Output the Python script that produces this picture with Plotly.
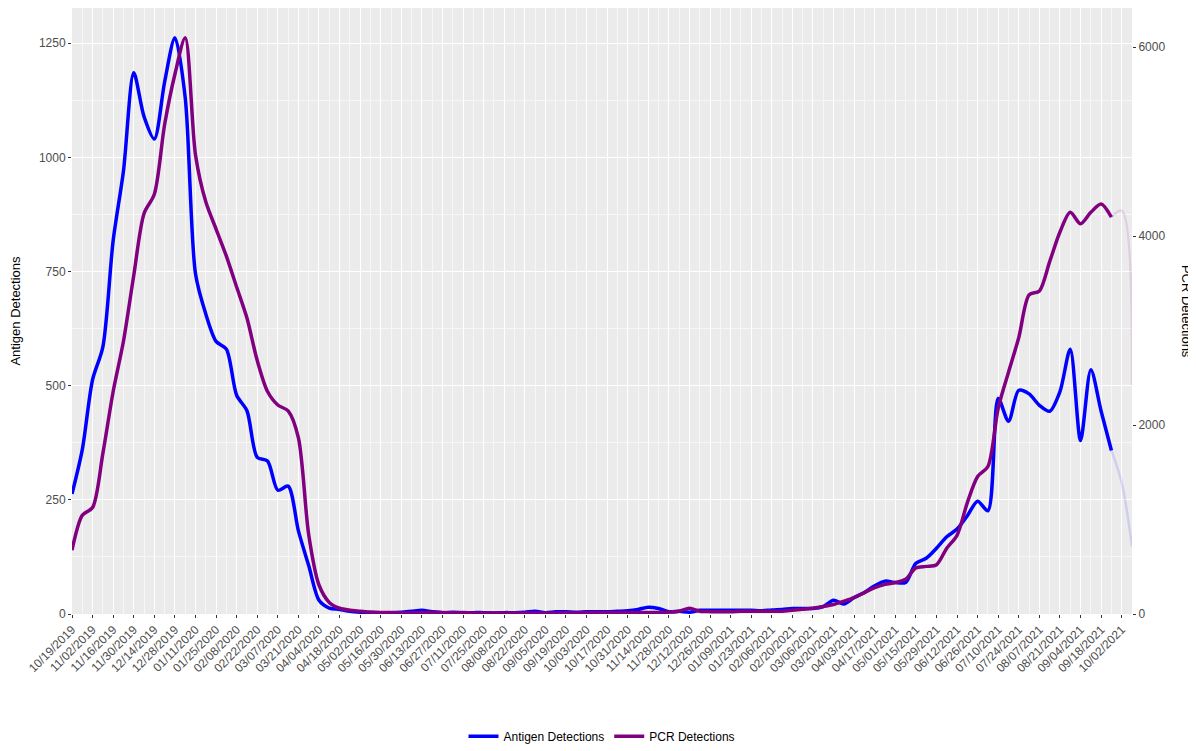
import pandas as pd
import plotly.graph_objects as go

# weekly dates, 10/19/2019 .. 10/09/2021
weeks = pd.date_range("2019-10-19", periods=104, freq="7D")

antigen = [263, 360, 513, 585, 818, 970, 1185, 1089, 1040, 1165,
           1262, 1131, 745, 657, 597, 580, 479, 445, 343, 335,
           271, 280, 182, 106, 30, 13, 10, 6, 4, 3,
           3, 3, 4, 6, 8, 5, 3, 4, 3, 3,
           3, 2, 3, 3, 4, 6, 3, 5, 5, 4,
           5, 5, 5, 6, 7, 10, 15, 12, 5, 6,
           4, 8, 8, 8, 8, 8, 8, 7, 9, 10,
           12, 12, 12, 16, 30, 22, 36, 47, 62, 72,
           69, 69, 111, 122, 144, 169, 186, 215, 247, 226,
           472, 422, 490, 482, 457, 444, 487, 580, 380, 535,
           444, 358, 287, 148]

pcr = [676, 1045, 1127, 1700, 2355, 2887, 3584, 4240, 4443, 5181,
       5714, 6100, 4860, 4363, 4075, 3789, 3461, 3133, 2683, 2355,
       2212, 2150, 1864, 840, 307, 123, 61, 40, 30, 20,
       15, 15, 12, 12, 15, 15, 15, 12, 15, 10,
       10, 10, 10, 10, 10, 10, 10, 10, 12, 12,
       15, 15, 15, 15, 15, 15, 15, 15, 20, 30,
       60, 30, 25, 25, 25, 30, 30, 30, 30, 30,
       40, 50, 60, 80, 100, 135, 174, 227, 279, 314,
       333, 367, 488, 504, 522, 696, 833, 1179, 1455, 1561,
       2180, 2560, 2927, 3378, 3420, 3730, 4044, 4252, 4130, 4252,
       4339, 4200, 4269, 2425]

last_solid = 101  # weeks after this are incomplete (drawn faded)

BLUE = "#0000FF"
PURPLE = "#800080"

fig = go.Figure()

# faded (incomplete) tails first so the solid lines sit on top
fig.add_trace(go.Scatter(x=weeks[last_solid:], y=antigen[last_solid:], mode="lines",
                         line=dict(color="rgba(0,0,255,0.12)", width=2.5, shape="spline"),
                         showlegend=False, hoverinfo="skip"))
fig.add_trace(go.Scatter(x=weeks[last_solid:], y=pcr[last_solid:], mode="lines", yaxis="y2",
                         line=dict(color="rgba(128,0,128,0.12)", width=2.5, shape="spline"),
                         showlegend=False, hoverinfo="skip"))

fig.add_trace(go.Scatter(x=weeks[:last_solid + 1], y=antigen[:last_solid + 1], mode="lines",
                         name="Antigen Detections",
                         line=dict(color=BLUE, width=3.5, shape="spline", smoothing=0.8)))
fig.add_trace(go.Scatter(x=weeks[:last_solid + 1], y=pcr[:last_solid + 1], mode="lines",
                         name="PCR Detections", yaxis="y2",
                         line=dict(color=PURPLE, width=3.5, shape="spline", smoothing=0.8)))

tickfont = dict(family="Liberation Sans, Arial, sans-serif", size=12, color="#4D4D4D")

# page body has an 8px margin, so the figure is sized 8px smaller
fig.update_layout(
    width=1188, height=743,
    margin=dict(l=64, r=64, t=0, b=124),
    paper_bgcolor="white",
    plot_bgcolor="#EBEBEB",
    font=dict(family="Liberation Sans, Arial, sans-serif", color="black"),
    xaxis=dict(
        type="date", automargin=False,
        range=["2019-10-19", "2021-10-09"],
        tick0="2019-10-19", dtick=14 * 86400000,
        tickformat="%m/%d/%Y", tickangle=-45,
        tickfont=tickfont,
        ticks="outside", ticklen=3, tickcolor="#333333",
        showgrid=True, gridcolor="white", gridwidth=1.1,
        minor=dict(dtick=7 * 86400000, tick0="2019-10-26", showgrid=True,
                   gridcolor="#F7F7F7", gridwidth=0.6),
        zeroline=False, showline=False,
    ),
    yaxis=dict(
        automargin=False,
        title=dict(text="Antigen Detections", font=dict(size=13), standoff=16),
        range=[0, 1327],
        tickvals=[0, 250, 500, 750, 1000, 1250],
        tickfont=tickfont,
        ticks="outside", ticklen=3, tickcolor="#333333",
        showgrid=True, gridcolor="white", gridwidth=1.1,
        minor=dict(tickvals=[125, 375, 625, 875, 1125], showgrid=True,
                   gridcolor="#F7F7F7", gridwidth=0.6),
        zeroline=False, showline=False,
    ),
    yaxis2=dict(
        automargin=False,
        overlaying="y", side="right",
        range=[0, 6415],
        tickvals=[0, 2000, 4000, 6000],
        tickfont=tickfont,
        ticks="outside", ticklen=3, tickcolor="#333333",
        showgrid=False, zeroline=False, showline=False,
    ),
    legend=dict(
        orientation="h", x=0.5, xanchor="center", y=-0.178, yanchor="top",
        font=dict(size=12), bgcolor="rgba(0,0,0,0)",
    ),
)

fig.add_annotation(text="PCR Detections", textangle=90, showarrow=False,
                   xref="paper", yref="paper", x=1.052, y=0.5,
                   xanchor="center", yanchor="middle",
                   font=dict(size=13, color="black"))

fig.write_html("out.html")
